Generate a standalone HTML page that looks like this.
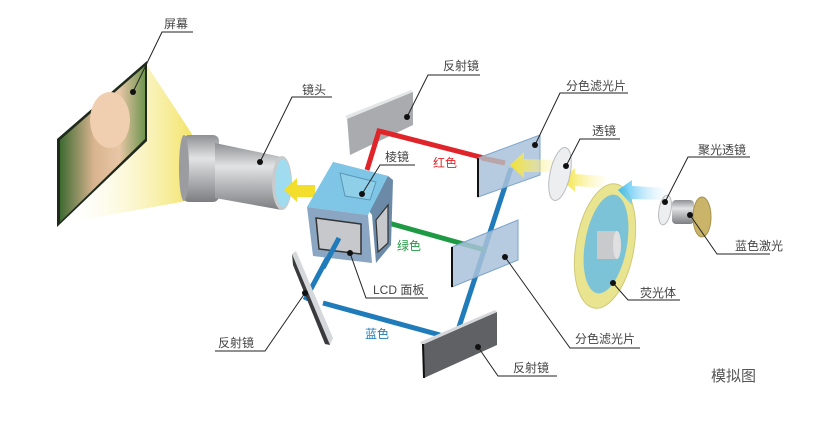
<!DOCTYPE html>
<html><head><meta charset="utf-8"><style>
html,body{margin:0;padding:0;background:#fff;}
svg{display:block}
text{font-family:"Liberation Sans","Noto Sans CJK SC",sans-serif;font-size:12px;fill:#444}
</style></head><body>
<svg width="813" height="423" viewBox="0 0 813 423" xmlns="http://www.w3.org/2000/svg">
<defs>
<linearGradient id="cone" x1="0" y1="0" x2="1" y2="0">
<stop offset="0" stop-color="#fff" stop-opacity="0.2"/><stop offset="1" stop-color="#f3e46a"/></linearGradient>
<linearGradient id="cyl" x1="0" y1="0" x2="0" y2="1">
<stop offset="0" stop-color="#8e9093"/><stop offset="0.35" stop-color="#e2e3e4"/><stop offset="1" stop-color="#7c7e82"/></linearGradient>
<linearGradient id="photo" x1="0" y1="0" x2="1" y2="0">
<stop offset="0" stop-color="#3f6a32"/><stop offset="0.4" stop-color="#d9b48f"/><stop offset="0.7" stop-color="#e8c6a6"/><stop offset="1" stop-color="#6f9550"/></linearGradient>
<linearGradient id="ya" x1="1" y1="0" x2="0" y2="0">
<stop offset="0" stop-color="#fff8c0" stop-opacity="0.2"/><stop offset="1" stop-color="#f3e12e"/></linearGradient>
<linearGradient id="ba" x1="1" y1="0" x2="0" y2="0">
<stop offset="0" stop-color="#e0f4ff" stop-opacity="0.2"/><stop offset="1" stop-color="#3dbbef"/></linearGradient>
</defs>

<polygon points="146,64 192,134 192,200 70,222" fill="url(#cone)"/>
<polygon points="57,139 147,61 147,141 57,227" fill="#1f2a1c"/>
<polygon points="60,140 145,66 145,139 60,222" fill="url(#photo)"/>
<ellipse cx="110" cy="120" rx="20" ry="28" fill="#efcfb0"/>

<rect x="183" y="135" width="36" height="67" rx="6" fill="url(#cyl)"/>
<polygon points="215,143 282,157 282,210 215,198" fill="url(#cyl)"/>
<ellipse cx="184" cy="168" rx="5" ry="33" fill="#9a9c9f"/>
<ellipse cx="282" cy="183" rx="10" ry="27" fill="#c8cacc"/>
<ellipse cx="283" cy="183" rx="8" ry="24" fill="#9fdcef"/>
<polygon points="284,190 297,178 297,185 315,185 315,197 297,197 297,202" fill="#f3de2c"/>

<polygon points="347,117 413,92 413,125 350,155" fill="#a9abae"/>
<polygon points="345,116 411,90 413,92 347,119" fill="#e4e5e6"/>
<polyline points="367,170 379,131 484,158" fill="none" stroke="#e0252a" stroke-width="5"/>

<polyline points="337,240 305,300" fill="none" stroke="#1f7bb9" stroke-width="5"/>
<polyline points="323,303 440,335" fill="none" stroke="#1f7bb9" stroke-width="5"/>
<polyline points="458,330 511,168" fill="none" stroke="#1f7bb9" stroke-width="5"/>
<line x1="385" y1="222" x2="485" y2="250" stroke="#1f9a44" stroke-width="5"/>

<polygon points="333,162 388,176 393,180 391,245 376,263 372,215" fill="#6a8aa8"/>
<polygon points="333,162 388,176 368,215 307,207" fill="#7fc6e6"/>
<polygon points="340,173 376,182 370,200 345,196" fill="#8fcfe8" stroke="#5b96b8"/>
<polygon points="307,207 368,215 372,263 313,256" fill="#8ba6c2"/>
<polygon points="316,218 361,224 361,254 319,249" fill="#c6c8cb" stroke="#333" stroke-width="1.5"/>
<polygon points="376,220 388,205 388,243 378,252" fill="#c6c8cb" stroke="#333" stroke-width="1.2"/>
<line x1="339" y1="238" x2="323" y2="268" stroke="#1f7bb9" stroke-width="5"/>

<polygon points="292,254 296,251 333,338 330,345" fill="#d5d7da"/>
<polygon points="292,254 330,345 325,344 293,265" fill="#3a3a3c"/>

<polygon points="478,158 540,135 540,175 478,197" fill="#a9c2d9" fill-opacity="0.85" stroke="#7da4cb"/>
<line x1="478" y1="158" x2="478" y2="197" stroke="#111" stroke-width="2"/>
<line x1="482" y1="158" x2="505" y2="163" stroke="#b9a4a8" stroke-width="5"/>
<polygon points="452,247 518,220 518,260 452,287" fill="#a9c2d9" fill-opacity="0.85" stroke="#7da4cb"/>
<line x1="452" y1="247" x2="452" y2="287" stroke="#111" stroke-width="2"/>
<polygon points="422,343 497,312 497,345 424,378" fill="#5f6164"/>
<polygon points="420,342 495,310 497,312 422,345" fill="#d5d7da"/>
<line x1="423" y1="344" x2="424" y2="378" stroke="#111" stroke-width="2"/>

<polygon points="510,165 524,152 524,159 560,160 560,172 524,172 524,178" fill="url(#ya)"/>
<polygon points="562,180 575,168 575,174 605,176 605,188 575,186 575,192" fill="url(#ya)"/>
<ellipse cx="560" cy="174" rx="10" ry="27" transform="rotate(12 560 174)" fill="#eceef0" stroke="#b9bbbe"/>
<ellipse cx="605" cy="246" rx="29" ry="63" transform="rotate(10 605 246)" fill="#e9e48f" stroke="#cfc978"/>
<ellipse cx="606" cy="244" rx="21" ry="50" transform="rotate(10 606 244)" fill="#7cc3d8"/>
<rect x="597" y="231" width="20" height="28" fill="#c9cacc"/>
<ellipse cx="617" cy="245" rx="4" ry="14" fill="#e0e0e0"/>
<polygon points="618,190 632,180 632,186 665,188 665,200 632,199 632,205" fill="url(#ba)"/>
<ellipse cx="665" cy="210" rx="6" ry="15" transform="rotate(10 665 210)" fill="#eceef0" stroke="#b9bbbe"/>
<rect x="672" y="200" width="22" height="24" rx="4" fill="url(#cyl)"/>
<ellipse cx="702" cy="217" rx="9" ry="20" fill="#c9b46a" stroke="#a8924c"/>

<g fill="none" stroke="#222" stroke-width="1">
<polyline points="193,32 162,32 133,92"/>
<polyline points="332,97 292,97 260,162"/>
<polyline points="480,75 428,75 407,117"/>
<polyline points="628,93 560,93 535,145"/>
<polyline points="620,139 580,139 566,166"/>
<polyline points="750,157 688,157 665,202"/>
<polyline points="770,254 717,254 690,215"/>
<polyline points="680,300 628,300 613,283"/>
<polyline points="640,348 570,348 505,257"/>
<polyline points="557,376 498,376 478,347"/>
<polyline points="215,351 265,351 305,293"/>
<polyline points="428,298 366,298 350,253"/>
<polyline points="415,165 380,165 362,194"/>
</g>
<g fill="#111">
<circle cx="133" cy="92" r="3"/><circle cx="260" cy="162" r="3"/><circle cx="407" cy="117" r="3"/>
<circle cx="535" cy="145" r="3"/><circle cx="566" cy="166" r="3"/><circle cx="665" cy="202" r="3"/>
<circle cx="690" cy="215" r="3"/><circle cx="613" cy="283" r="3"/><circle cx="505" cy="257" r="3"/>
<circle cx="478" cy="347" r="3"/><circle cx="305" cy="293" r="3"/><circle cx="350" cy="253" r="3"/>
<circle cx="362" cy="194" r="3"/>
</g>
<text x="164" y="28">屏幕</text>
<text x="302" y="94">镜头</text>
<text x="443" y="70">反射镜</text>
<text x="566" y="90">分色滤光片</text>
<text x="592" y="135">透镜</text>
<text x="698" y="154">聚光透镜</text>
<text x="735" y="250">蓝色激光</text>
<text x="640" y="297">荧光体</text>
<text x="575" y="343">分色滤光片</text>
<text x="513" y="372">反射镜</text>
<text x="218" y="347">反射镜</text>
<text x="373" y="294">LCD 面板</text>
<text x="385" y="161">棱镜</text>
<text x="433" y="167" style="fill:#e0252a">红色</text>
<text x="397" y="250" style="fill:#1f9a44">绿色</text>
<text x="365" y="338" style="fill:#1f7bb9">蓝色</text>
<text x="711" y="381" style="font-size:15px;fill:#555">模拟图</text>
</svg>
</body></html>
